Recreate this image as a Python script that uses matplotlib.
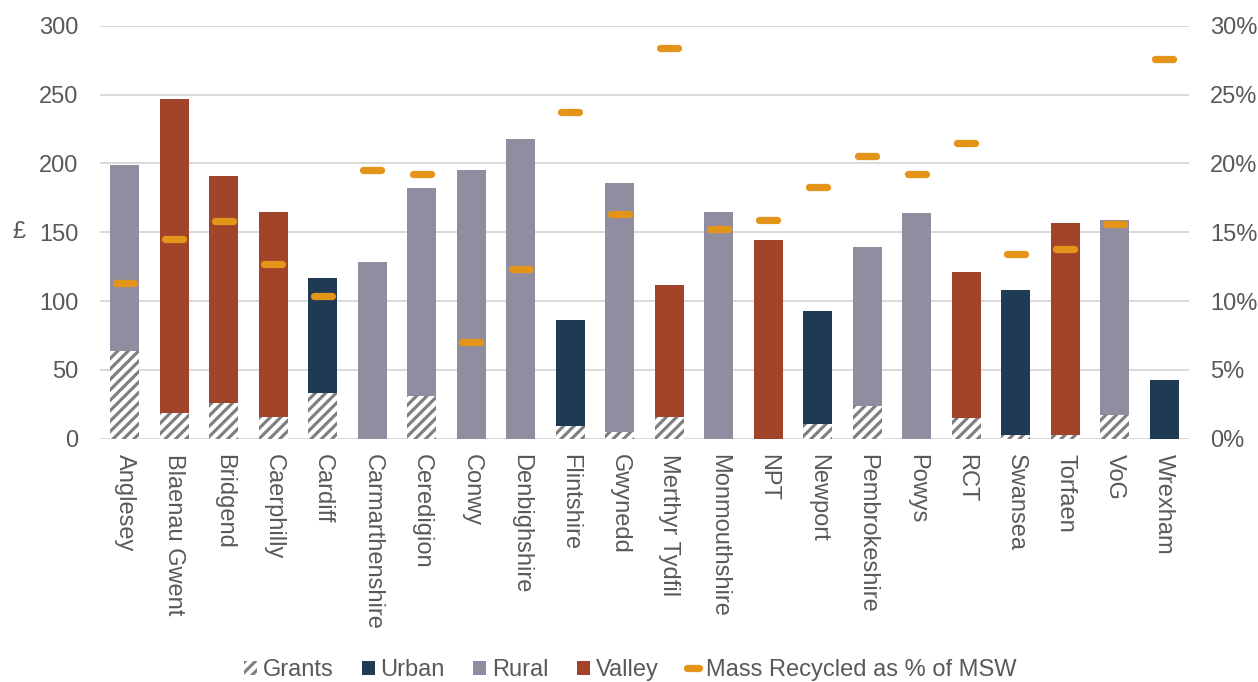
import matplotlib
matplotlib.use('Agg')
import matplotlib.pyplot as plt
import numpy as np
from matplotlib.patches import Patch
from matplotlib.lines import Line2D
from matplotlib.markers import MarkerStyle

areas = ['Anglesey', 'Blaenau Gwent', 'Bridgend', 'Caerphilly', 'Cardiff', 'Carmarthenshire',
         'Ceredigion', 'Conwy', 'Denbighshire', 'Flintshire', 'Gwynedd',
         'Merthyr Tydfil', 'Monmouthshire', 'NPT', 'Newport', 'Pembrokeshire', 'Powys', 'RCT',
         'Swansea', 'Torfaen', 'VoG', 'Wrexham']
area_type = ['Rural', 'Valley', 'Valley', 'Valley', 'Urban', 'Rural', 'Rural', 'Rural', 'Rural',
             'Urban', 'Rural', 'Valley', 'Rural', 'Valley', 'Urban', 'Rural', 'Rural', 'Valley',
             'Urban', 'Valley', 'Rural', 'Urban']
total_cost = [199, 247, 191, 165, 117, 128, 182, 195, 218, 86, 186, 112, 165, 144, 93, 139, 164,
              121, 108, 157, 159, 43]
grants = [64, 19, 26, 16, 33, 0, 31, 0, 0, 9, 5, 16, 0, 0, 11, 24, 0, 15, 3, 3, 17, 0]
recycled_pct = [11.3, 14.5, 15.8, 12.7, 10.4, 19.5, 19.2, 7.0, 12.3, 23.7, 16.3, 28.4, 15.2, 15.9,
                18.3, 20.5, 19.2, 21.5, 13.4, 13.8, 15.6, 27.6]

colors = {'Urban': '#1F3A53', 'Rural': '#918DA0', 'Valley': '#A2442A'}
orange = '#E5941A'
hatch_grey = '#7F7F7F'
text_grey = '#595959'

plt.rcParams['font.family'] = ['Liberation Sans', 'DejaVu Sans']
plt.rcParams['hatch.linewidth'] = 1.8

DPI = 125
fig = plt.figure(figsize=(1258 / DPI, 682 / DPI), dpi=DPI)
ax = fig.add_axes([100 / 1258, 243.3 / 682, 1089 / 1258, 413 / 682])
ax2 = ax.twinx()

x = np.arange(len(areas))
grants = np.array(grants)
total_cost = np.array(total_cost)
bar_w = 0.59

# grants part at the bottom, hatched
ax.bar(x, grants, bar_w, color='white', edgecolor=hatch_grey, linewidth=0, hatch='////', zorder=2)
ax.bar(x, total_cost - grants, bar_w, bottom=grants,
       color=[colors[t] for t in area_type], linewidth=0, zorder=2)

dash = MarkerStyle('_', capstyle='round')
ax2.plot(x, np.array(recycled_pct) / 100, linestyle='none', marker=dash,
         markersize=10.5, markeredgewidth=4.2, color=orange, zorder=3)

ax.set_xlim(-0.5, len(areas) - 0.5)
ax.set_ylim(0, 300)
ax.set_yticks(np.arange(0, 301, 50))
ax2.set_ylim(0, 0.30)
ax2.set_yticks(np.arange(0, 0.31, 0.05))
ax2.set_yticklabels([f'{int(round(v * 100))}%' for v in np.arange(0, 0.31, 0.05)])

ax.set_xticks(x)
ax.set_xticklabels(areas, rotation=-90, va='top', ha='center')

ax.grid(axis='y', color='#D9D9D9', linewidth=1.1, zorder=0)
ax.set_axisbelow(True)
for a in (ax, ax2):
    for s in a.spines.values():
        s.set_visible(False)
    a.tick_params(length=0, colors=text_grey, labelsize=13.6)
ax.tick_params(axis='x', pad=9)
ax.tick_params(axis='y', pad=12.5)
ax2.tick_params(axis='y', pad=12)

ax.set_ylabel('£', rotation=0, fontsize=13.6, color=text_grey, va='center', ha='center')
ax.yaxis.set_label_coords(-0.0744, 0.5)

handles = [Patch(facecolor='white', edgecolor=hatch_grey, linewidth=0, hatch='////'),
           Patch(facecolor=colors['Urban']),
           Patch(facecolor=colors['Rural']),
           Patch(facecolor=colors['Valley']),
           Line2D([], [], linestyle='none', marker=dash, markersize=7, markeredgewidth=4.2, color=orange)]
labels = ['Grants', 'Urban', 'Rural', 'Valley', 'Mass Recycled as % of MSW']
leg = fig.legend(handles, labels, loc='center', bbox_to_anchor=(630 / 1258, 1 - 670 / 682),
                 ncol=5, frameon=False, fontsize=13.6, handlelength=0.55, handleheight=0.55,
                 handletextpad=0.25, columnspacing=1.2, borderaxespad=0)
for t in leg.get_texts():
    t.set_color(text_grey)

fig.savefig('out.png', dpi=DPI)
